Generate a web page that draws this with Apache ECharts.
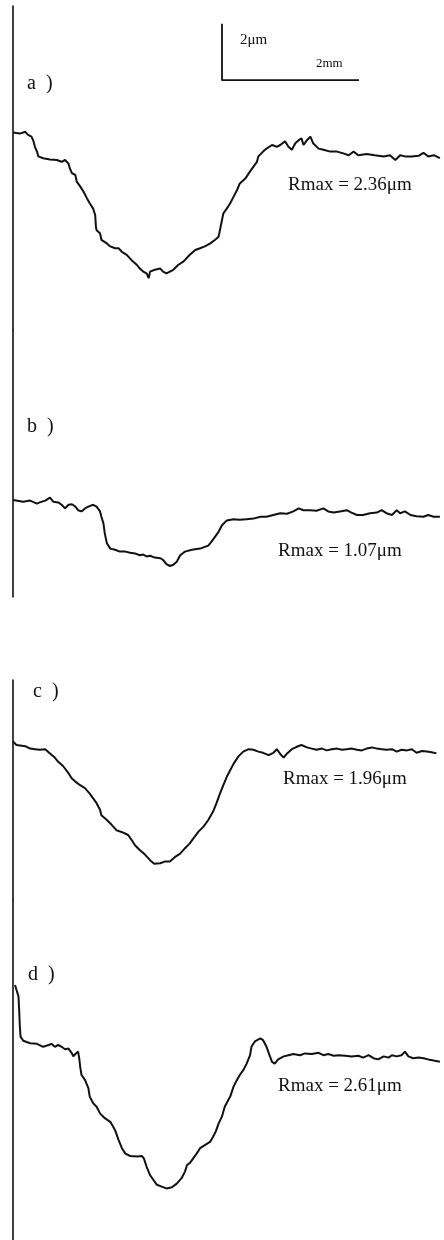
<!DOCTYPE html>
<html>
<head>
<meta charset="utf-8">
<script src="https://cdn.jsdelivr.net/npm/echarts@6/dist/echarts.min.js"></script>
<style>
html,body{margin:0;padding:0;background:#fff;}
#chart{width:444px;height:1240px;}
</style>
</head>
<body>
<div id="chart"></div>
<script>
// Surface profiles: x = position along trace (mm), y = height (μm)
const profileA = [
[0.00,0.01],[0.10,-0.01],[0.18,0.02],[0.22,-0.03],[0.27,-0.06],[0.30,-0.14],[0.32,-0.23],[0.35,-0.31],[0.37,-0.39],
[0.44,-0.42],[0.54,-0.44],[0.64,-0.45],[0.71,-0.48],[0.76,-0.45],[0.81,-0.51],[0.83,-0.59],[0.86,-0.67],[0.91,-0.70],
[0.93,-0.81],[0.98,-0.89],[1.03,-0.98],[1.08,-1.09],[1.12,-1.17],[1.17,-1.26],[1.20,-1.37],[1.21,-1.56],[1.22,-1.62],
[1.27,-1.67],[1.29,-1.78],[1.37,-1.84],[1.42,-1.89],[1.49,-1.92],[1.54,-1.92],[1.59,-1.98],[1.66,-2.03],[1.73,-2.12],
[1.81,-2.20],[1.85,-2.26],[1.90,-2.31],[1.95,-2.34],[1.98,-2.42],[2.00,-2.31],[2.07,-2.28],[2.15,-2.26],[2.19,-2.31],
[2.24,-2.34],[2.29,-2.31],[2.34,-2.28],[2.41,-2.20],[2.49,-2.14],[2.58,-2.03],[2.66,-1.95],[2.73,-1.92],[2.80,-1.89],
[2.88,-1.84],[2.95,-1.78],[3.00,-1.73],[3.02,-1.62],[3.05,-1.45],[3.07,-1.34],[3.12,-1.26],[3.17,-1.17],[3.22,-1.06],
[3.27,-0.95],[3.31,-0.84],[3.39,-0.76],[3.46,-0.64],[3.51,-0.56],[3.56,-0.48],[3.58,-0.39],[3.65,-0.31],[3.70,-0.26],
[3.78,-0.20],[3.85,-0.23],[3.90,-0.20],[3.97,-0.14],[4.02,-0.23],[4.07,-0.28],[4.12,-0.17],[4.17,-0.12],[4.21,-0.09],
[4.24,-0.20],[4.29,-0.12],[4.34,-0.06],[4.38,-0.17],[4.46,-0.26],[4.53,-0.28],[4.63,-0.31],[4.73,-0.31],[4.82,-0.34],
[4.90,-0.37],[4.97,-0.31],[5.04,-0.37],[5.16,-0.35],[5.28,-0.37],[5.41,-0.39],[5.50,-0.37],[5.58,-0.45],[5.65,-0.37],
[5.72,-0.39],[5.82,-0.39],[5.92,-0.38],[5.99,-0.33],[6.06,-0.39],[6.14,-0.37],[6.23,-0.42]
];
const profileB = [
[0.00,0.00],[0.15,-0.03],[0.25,-0.01],[0.35,-0.06],[0.39,-0.04],[0.47,-0.01],[0.54,0.04],[0.59,-0.03],[0.66,-0.04],
[0.71,-0.08],[0.76,-0.14],[0.81,-0.08],[0.86,-0.07],[0.91,-0.11],[0.95,-0.17],[1.00,-0.19],[1.05,-0.14],[1.10,-0.11],
[1.17,-0.08],[1.22,-0.11],[1.27,-0.19],[1.29,-0.28],[1.32,-0.39],[1.34,-0.56],[1.37,-0.72],[1.42,-0.81],[1.49,-0.83],
[1.56,-0.86],[1.64,-0.86],[1.71,-0.88],[1.78,-0.89],[1.85,-0.92],[1.90,-0.91],[1.95,-0.94],[2.00,-0.93],[2.07,-0.96],
[2.15,-0.97],[2.19,-1.00],[2.24,-1.07],[2.29,-1.10],[2.34,-1.08],[2.39,-1.03],[2.44,-0.92],[2.51,-0.86],[2.61,-0.83],
[2.73,-0.81],[2.85,-0.76],[2.90,-0.69],[2.95,-0.61],[3.00,-0.53],[3.05,-0.42],[3.12,-0.34],[3.22,-0.32],[3.31,-0.33],
[3.41,-0.32],[3.51,-0.31],[3.61,-0.28],[3.70,-0.28],[3.80,-0.25],[3.90,-0.22],[4.00,-0.23],[4.09,-0.19],[4.17,-0.14],
[4.24,-0.17],[4.34,-0.17],[4.43,-0.18],[4.53,-0.14],[4.60,-0.19],[4.68,-0.21],[4.77,-0.19],[4.87,-0.17],[4.94,-0.21],
[5.02,-0.25],[5.11,-0.25],[5.21,-0.22],[5.31,-0.21],[5.38,-0.17],[5.45,-0.22],[5.53,-0.25],[5.60,-0.17],[5.65,-0.22],
[5.72,-0.19],[5.80,-0.25],[5.89,-0.27],[5.99,-0.28],[6.06,-0.25],[6.14,-0.28],[6.23,-0.28]
];
const profileC = [
[0.00,0.01],[0.05,-0.05],[0.18,-0.07],[0.25,-0.11],[0.32,-0.12],[0.39,-0.13],[0.47,-0.12],[0.54,-0.19],[0.61,-0.26],
[0.66,-0.33],[0.73,-0.40],[0.81,-0.52],[0.86,-0.61],[0.91,-0.66],[0.98,-0.72],[1.05,-0.77],[1.12,-0.86],[1.17,-0.94],
[1.22,-1.02],[1.27,-1.13],[1.29,-1.22],[1.37,-1.30],[1.44,-1.38],[1.51,-1.47],[1.61,-1.51],[1.68,-1.55],[1.73,-1.63],
[1.78,-1.72],[1.85,-1.80],[1.93,-1.88],[2.00,-1.97],[2.06,-2.03],[2.15,-2.02],[2.22,-1.99],[2.29,-1.99],[2.36,-1.92],
[2.44,-1.86],[2.51,-1.77],[2.58,-1.69],[2.63,-1.61],[2.71,-1.49],[2.78,-1.41],[2.85,-1.30],[2.92,-1.16],[2.97,-1.02],
[3.02,-0.86],[3.07,-0.72],[3.12,-0.58],[3.17,-0.47],[3.22,-0.36],[3.29,-0.24],[3.36,-0.16],[3.44,-0.12],[3.51,-0.13],
[3.58,-0.16],[3.65,-0.18],[3.73,-0.22],[3.80,-0.18],[3.85,-0.12],[3.90,-0.20],[3.95,-0.26],[4.00,-0.19],[4.07,-0.12],
[4.14,-0.08],[4.21,-0.05],[4.29,-0.09],[4.36,-0.11],[4.43,-0.13],[4.51,-0.11],[4.58,-0.14],[4.65,-0.12],[4.73,-0.11],
[4.80,-0.13],[4.87,-0.12],[4.94,-0.11],[5.02,-0.13],[5.09,-0.14],[5.16,-0.11],[5.24,-0.09],[5.31,-0.11],[5.38,-0.12],
[5.45,-0.13],[5.53,-0.12],[5.60,-0.16],[5.67,-0.13],[5.75,-0.14],[5.82,-0.12],[5.89,-0.18],[5.97,-0.15],[6.04,-0.16],
[6.11,-0.17],[6.18,-0.19]
];
const profileD = [
[0.03,1.00],[0.05,0.92],[0.08,0.81],[0.09,0.58],[0.10,0.31],[0.11,0.14],[0.15,0.07],[0.25,0.03],[0.35,0.02],[0.44,-0.03],
[0.52,0.00],[0.56,0.02],[0.61,-0.03],[0.66,0.00],[0.71,-0.03],[0.76,-0.07],[0.81,-0.06],[0.86,-0.14],[0.88,-0.19],
[0.91,-0.15],[0.95,-0.11],[0.97,-0.25],[0.98,-0.36],[1.00,-0.50],[1.05,-0.58],[1.10,-0.72],[1.12,-0.86],[1.17,-0.97],
[1.22,-1.03],[1.27,-1.14],[1.34,-1.22],[1.42,-1.28],[1.46,-1.36],[1.49,-1.42],[1.54,-1.58],[1.59,-1.72],[1.64,-1.81],
[1.71,-1.85],[1.81,-1.86],[1.88,-1.85],[1.91,-1.89],[1.95,-2.03],[2.00,-2.17],[2.05,-2.25],[2.10,-2.33],[2.17,-2.36],
[2.24,-2.39],[2.32,-2.37],[2.39,-2.31],[2.46,-2.22],[2.51,-2.11],[2.54,-2.00],[2.58,-1.97],[2.63,-1.89],[2.68,-1.81],
[2.73,-1.72],[2.80,-1.67],[2.88,-1.61],[2.92,-1.53],[2.96,-1.44],[3.00,-1.31],[3.05,-1.19],[3.09,-1.03],[3.14,-0.92],
[3.17,-0.86],[3.22,-0.69],[3.27,-0.58],[3.31,-0.50],[3.36,-0.42],[3.41,-0.31],[3.46,-0.17],[3.48,-0.03],[3.53,0.06],
[3.61,0.11],[3.65,0.08],[3.70,-0.03],[3.75,-0.19],[3.78,-0.28],[3.82,-0.31],[3.87,-0.24],[3.95,-0.19],[4.02,-0.17],
[4.09,-0.15],[4.19,-0.17],[4.26,-0.14],[4.36,-0.15],[4.46,-0.13],[4.53,-0.17],[4.60,-0.15],[4.68,-0.18],[4.75,-0.17],
[4.85,-0.18],[4.94,-0.19],[5.04,-0.18],[5.11,-0.21],[5.19,-0.17],[5.26,-0.22],[5.33,-0.24],[5.41,-0.19],[5.48,-0.21],
[5.53,-0.17],[5.60,-0.19],[5.67,-0.17],[5.72,-0.11],[5.77,-0.19],[5.84,-0.22],[5.92,-0.21],[5.99,-0.22],[6.06,-0.24],
[6.14,-0.26],[6.23,-0.28]
];
const panelLabels = ['a\u2002)', 'b\u2002)', 'c\u2002)', 'd\u2002)'];
const rmaxLabels = ['Rmax = 2.36\u03bcm', 'Rmax = 1.07\u03bcm', 'Rmax = 1.96\u03bcm', 'Rmax = 2.61\u03bcm'];
// scale bar (in panel a units): 2 mm horizontal, vertical bar
const scaleBar = [[3.05, 1.82], [3.05, 0.88], [5.05, 0.88]];
const scaleLabels = ['2\u03bcm', '2mm'];

const profiles = [profileA, profileB, profileC, profileD];

// layout (pixels)
const PX_PER_UM = 60;
const X_MAX = 6.29;
const panels = [
  {top: 6,   height: 324, level: 133},
  {top: 330, height: 267, level: 500},
  {top: 680, height: 220, level: 742},
  {top: 900, height: 340, level: 1045}
];
const labelPos = [[27, 84], [27, 427], [33, 692], [28, 975]];
const rmaxPos = [[288, 185], [278, 551], [283, 779], [278, 1086]];

const grids = [], xAxes = [], yAxes = [], series = [];
panels.forEach((p, i) => {
  grids.push({left: 13, top: p.top, width: 431, height: p.height, containLabel: false});
  xAxes.push({type: 'value', gridIndex: i, min: 0, max: X_MAX, show: false});
  yAxes.push({
    type: 'value', gridIndex: i,
    max: (p.level - p.top) / PX_PER_UM,
    min: -(p.top + p.height - p.level) / PX_PER_UM,
    axisLine: {show: true, lineStyle: {color: '#111', width: 1.6}},
    axisTick: {show: false}, axisLabel: {show: false}, splitLine: {show: false}
  });
  series.push({
    type: 'line', xAxisIndex: i, yAxisIndex: i, data: profiles[i],
    showSymbol: false, symbol: 'none', smooth: false, silent: true,
    lineStyle: {color: '#111', width: 2}
  });
});
series.push({
  type: 'line', xAxisIndex: 0, yAxisIndex: 0, data: scaleBar,
  showSymbol: false, symbol: 'none', silent: true,
  lineStyle: {color: '#111', width: 1.8}
});

const serif = '"Liberation Serif", "DejaVu Serif", serif';
const graphics = [];
panelLabels.forEach((t, i) => {
  graphics.push({type: 'text', x: labelPos[i][0], y: labelPos[i][1],
    style: {text: t, font: '20px ' + serif, fill: '#111', verticalAlign: 'middle'}});
});
rmaxLabels.forEach((t, i) => {
  graphics.push({type: 'text', x: rmaxPos[i][0], y: rmaxPos[i][1],
    style: {text: t, font: '19px ' + serif, fill: '#111', verticalAlign: 'middle'}});
});
graphics.push({type: 'text', x: 240, y: 40, style: {text: scaleLabels[0], font: '15px ' + serif, fill: '#111', verticalAlign: 'middle'}});
graphics.push({type: 'text', x: 316, y: 64, style: {text: scaleLabels[1], font: '13px ' + serif, fill: '#111', verticalAlign: 'middle'}});

const chart = echarts.init(document.getElementById('chart'));
chart.setOption({
  animation: false,
  backgroundColor: '#fff',
  grid: grids, xAxis: xAxes, yAxis: yAxes, series: series,
  graphic: graphics
});
</script>
</body>
</html>
